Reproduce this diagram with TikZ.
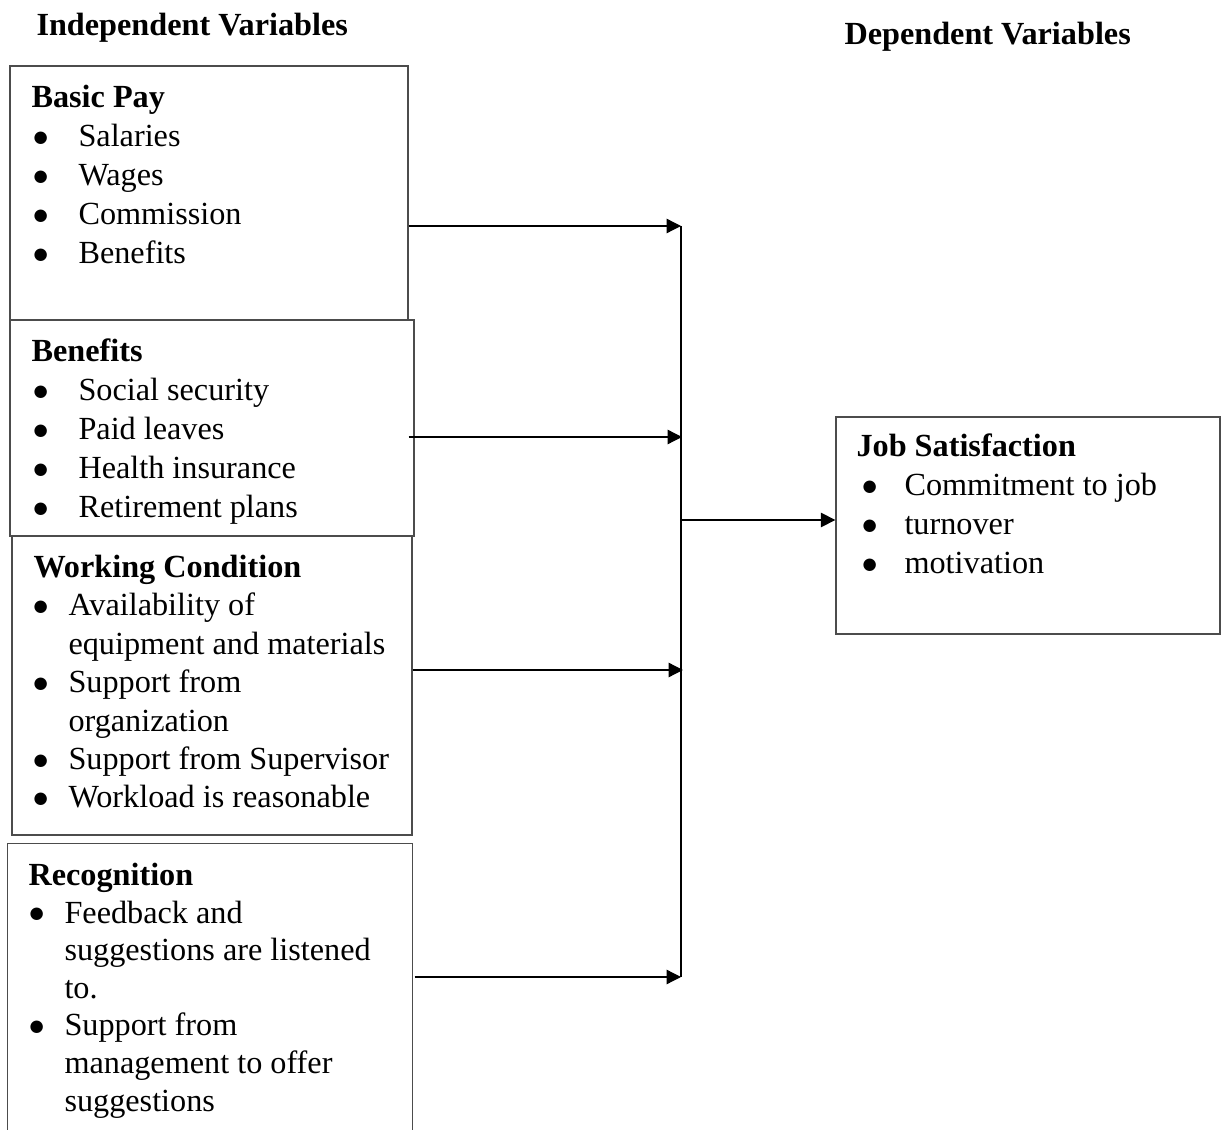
\documentclass[tikz,border=0pt]{standalone}
\usepackage{fontspec}
\setmainfont{Liberation Serif}
\newfontfamily\symfont{DejaVu Sans}
\usetikzlibrary{arrows.meta,fit,calc}

\newcommand{\px}[1]{\dimexpr0.38pt*#1\relax}
\newcommand{\dotmark}{\raisebox{1.7pt}{\symfont\fontsize{6.2}{6.2}\selectfont ●}}
\newcommand{\itm}[3]{\hspace*{\px{#1}}\makebox[\px{#2}][l]{\dotmark}#3}

\begin{document}
\begin{tikzpicture}
	[x=0.38pt,y=-0.38pt,
	box/.style={draw=black!70,line width=0.5pt,inner sep=0pt,fit={#1}},
	frame/.style={inner sep=0pt,fit={#1}},
	txt/.style={anchor=north west,inner sep=0pt,align=left,
		font=\fontsize{12.25}{14.8}\selectfont},
	txtw/.style={txt,font=\fontsize{12.25}{14.6}\selectfont},
	txtr/.style={txt,font=\fontsize{12.25}{14.3}\selectfont},
	head/.style={anchor=base west,inner sep=0pt,font=\fontsize{12.25}{14.8}\selectfont\bfseries},
	feed/.style={-{Triangle[length=5.5pt,width=5.5pt]},line width=0.5pt},
	bus/.style={line width=0.65pt}]
	\useasboundingbox (0,0) rectangle (1226,1130);

	\node[head] (indep) at (36,36) {Independent Variables};
	\node[head] (dep) at (844,45) {Dependent Variables};

	% boxes
	\node[box={(10,66) (408,320)}] (pay) {};
	\node[box={(10,320) (414,536)}] (ben) {};
	\node[box={(12,536) (412,835)}] (work) {};
	\node[frame={(8,844) (412,1130)}] (rec) {};
	\draw[draw=black!70,line width=0.5pt]
		(rec.south west) |- (rec.north east) -- (rec.south east);
	\node[box={(836,417) (1220,634)}] (job) {};

	% texts
	\node[txt] (payText) at (31,80) {\strut\textbf{Basic Pay}\\
		\itm{2}{45}{Salaries}\\
		\itm{2}{45}{Wages}\\
		\itm{2}{45}{Commission}\\
		\itm{2}{45}{Benefits}};
	\node[txt] (benText) at (31,334) {\strut\textbf{Benefits}\\
		\itm{2}{45}{Social security}\\
		\itm{2}{45}{Paid leaves}\\
		\itm{2}{45}{Health insurance}\\
		\itm{2}{45}{Retirement plans}};
	\node[txtw] (workText) at (33,550) {\strut\textbf{Working Condition}\\
		\itm{0}{35}{Availability of}\\
		\hspace*{\px{35}}equipment and materials\\
		\itm{0}{35}{Support from}\\
		\hspace*{\px{35}}organization\\
		\itm{0}{35}{Support from Supervisor}\\
		\itm{0}{35}{Workload is reasonable}};
	\node[txtr] (recText) at (28,858.6) {\strut\textbf{Recognition}\\
		\itm{1}{35}{Feedback and}\\
		\hspace*{\px{36}}suggestions are listened\\
		\hspace*{\px{36}}to.\\
		\itm{1}{35}{Support from}\\
		\hspace*{\px{36}}management to offer\\
		\hspace*{\px{36}}suggestions};
	\node[txt] (jobText) at (856,429) {\strut\textbf{Job Satisfaction}\\
		\itm{6}{42}{Commitment to job}\\
		\itm{6}{42}{turnover}\\
		\itm{6}{42}{motivation}};

	% connectors
	\coordinate (j1) at (681,226);
	\coordinate (j2) at (682,437);
	\coordinate (j3) at (683,670);
	\coordinate (j4) at (681,977);
	\coordinate (jo) at (681,520);
	\draw[bus] (j1) -- (j4);
	\draw[feed] (pay.east |- j1) -- (j1);
	\draw[feed] ($(ben.east |- j2)+(-6,0)$) -- (j2);
	\draw[feed] (work.east |- j3) -- (j3);
	\draw[feed] ($(rec.east |- j4)+(2,0)$) -- (j4);
	\draw[feed] (jo) -- (job.west |- jo);
\end{tikzpicture}
\end{document}
